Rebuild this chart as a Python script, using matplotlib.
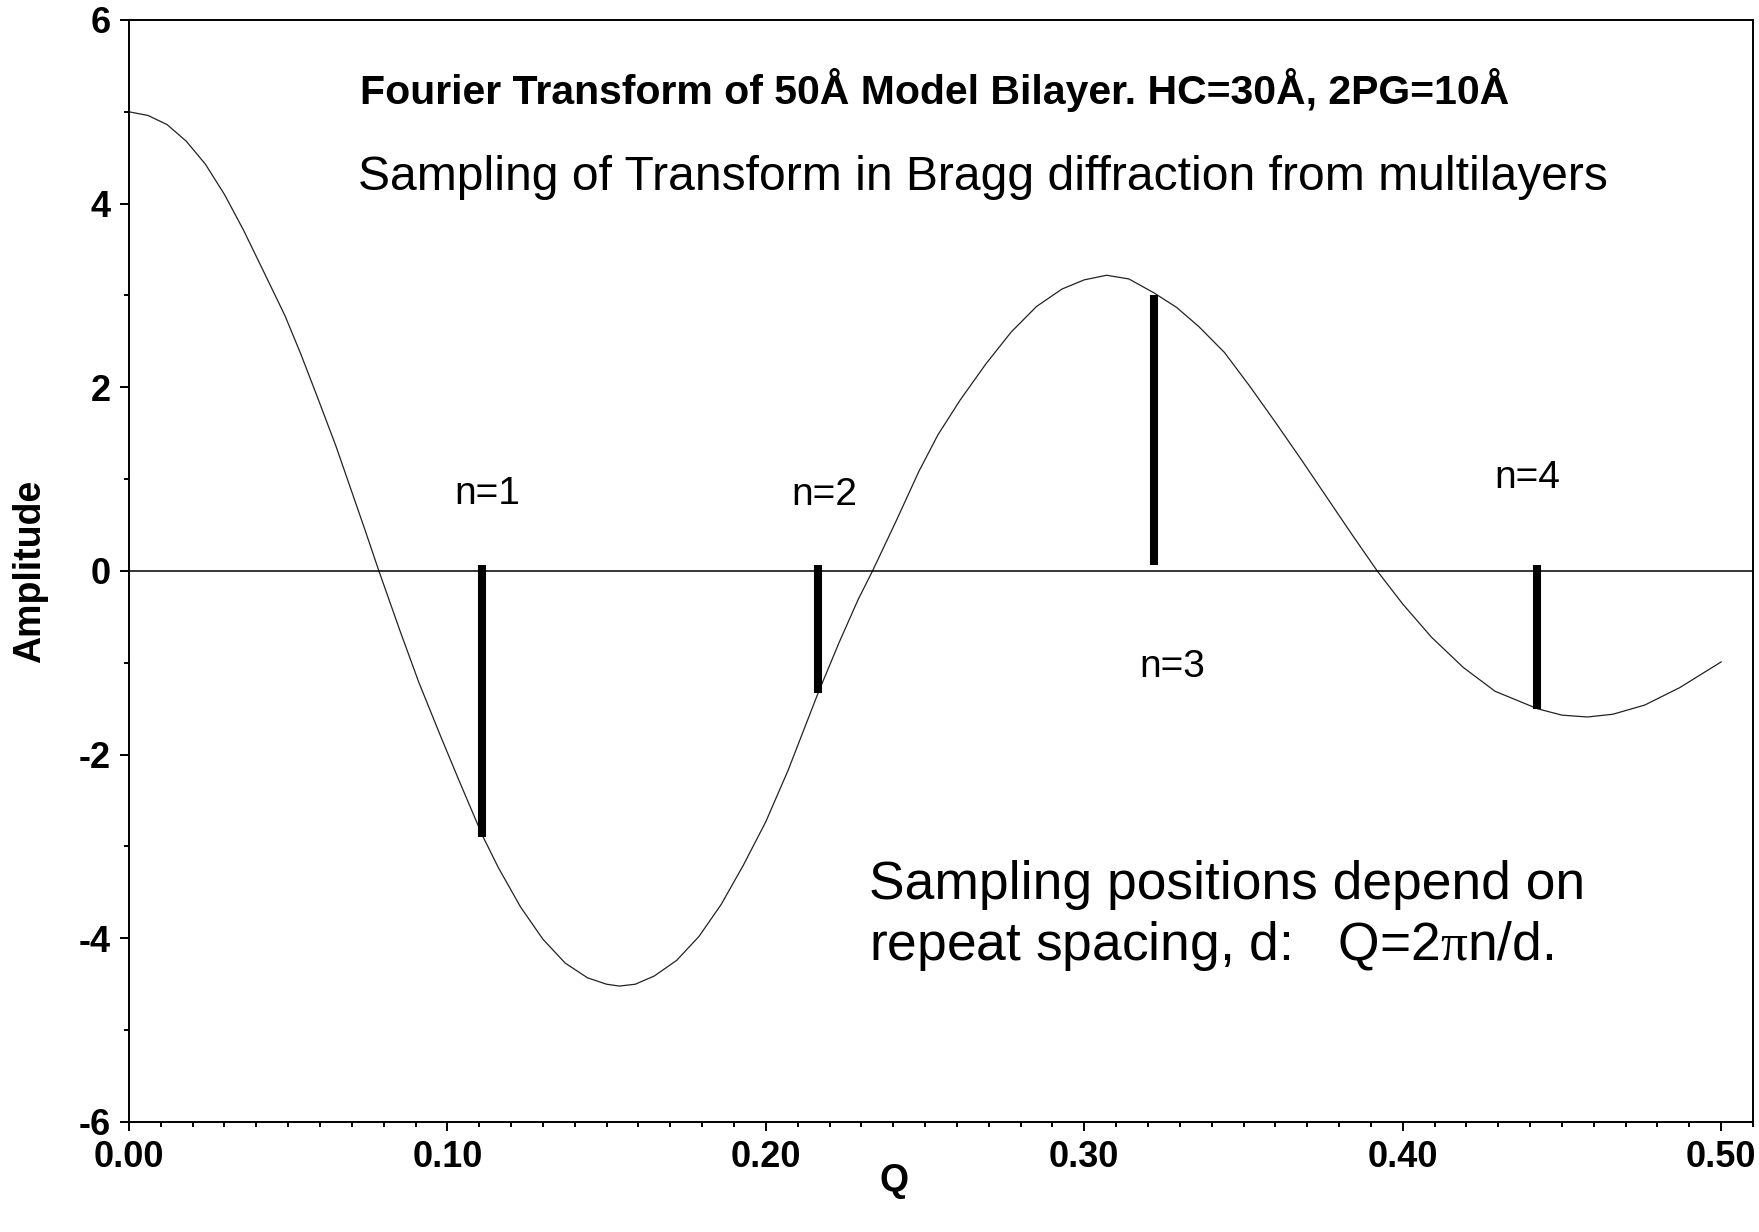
import matplotlib
matplotlib.use("Agg")
import matplotlib.pyplot as plt
from matplotlib.ticker import MultipleLocator

plt.rcParams['font.family'] = ['Liberation Sans', 'DejaVu Sans']
plt.rcParams['axes.unicode_minus'] = False
plt.rcParams['mathtext.fontset'] = 'custom'
plt.rcParams['mathtext.rm'] = 'Liberation Serif'

# transform curve
q = [0.000, 0.006, 0.012, 0.018, 0.024, 0.030, 0.036, 0.043, 0.049, 0.054,
     0.059, 0.065, 0.070, 0.074, 0.0785, 0.085, 0.091, 0.098, 0.104, 0.111,
     0.116, 0.123, 0.130, 0.137, 0.144, 0.150, 0.154, 0.159, 0.165, 0.172,
     0.179, 0.186, 0.193, 0.200, 0.207, 0.2164, 0.223, 0.229, 0.2335, 0.241,
     0.248, 0.254, 0.261, 0.269, 0.277, 0.285, 0.293, 0.300, 0.307, 0.314,
     0.3218, 0.329, 0.336, 0.344, 0.352, 0.360, 0.368, 0.376, 0.384, 0.392,
     0.400, 0.409, 0.419, 0.429, 0.4423, 0.450, 0.458, 0.466, 0.476, 0.487,
     0.500]
amp = [5.00, 4.96, 4.86, 4.68, 4.43, 4.10, 3.71, 3.21, 2.78, 2.36,
       1.91, 1.36, 0.86, 0.46, 0.00, -0.64, -1.21, -1.81, -2.31, -2.88,
       -3.23, -3.66, -4.01, -4.27, -4.43, -4.50, -4.52, -4.50, -4.41, -4.24,
       -3.98, -3.63, -3.20, -2.73, -2.17, -1.33, -0.78, -0.31, 0.00, 0.55,
       1.08, 1.48, 1.86, 2.25, 2.60, 2.88, 3.07, 3.17, 3.22, 3.18,
       3.03, 2.87, 2.66, 2.38, 2.01, 1.62, 1.22, 0.81, 0.40, 0.00,
       -0.36, -0.72, -1.05, -1.31, -1.50, -1.57, -1.59, -1.56, -1.46, -1.27,
       -0.99]

# Bragg sampling bars
bar_q = [0.1109, 0.2164, 0.3218, 0.4423]
bar_amp = [-2.90, -1.33, 3.01, -1.50]
bar_labels = ['n=1', 'n=2', 'n=3', 'n=4']
label_q = [0.1023, 0.2080, 0.3173, 0.4288]
label_amp = [0.73, 0.72, -1.15, 0.90]

x_ticks = [0.0, 0.1, 0.2, 0.3, 0.4, 0.5]
x_ticklabels = ['0.00', '0.10', '0.20', '0.30', '0.40', '0.50']
y_ticks = [-6, -4, -2, 0, 2, 4, 6]

fig = plt.figure(figsize=(17.59, 12.32), dpi=100)
ax = fig.add_axes([0.0733, 0.0893, 0.9233, 0.8945])

ax.plot(q, amp, color='#222222', lw=0.9)
ax.axhline(0, color='black', lw=1.1)
ax.vlines(bar_q, 0.06, bar_amp, color='black', lw=5.8)

for txt, x, y in zip(bar_labels, label_q, label_amp):
    ax.text(x, y, txt, fontsize=28, ha='left', va='baseline')

ax.text(0.0725, 5.09, 'Fourier Transform of 50Å Model Bilayer. HC=30Å, 2PG=10Å',
        fontsize=29.5, fontweight='bold', ha='left', va='baseline')
ax.text(0.0719, 4.15, 'Sampling of Transform in Bragg diffraction from multilayers',
        fontsize=34.6, ha='left', va='baseline')
ax.text(0.2323, -3.57, 'Sampling positions depend on',
        fontsize=38.4, ha='left', va='baseline')
ax.text(0.2323, -4.24, r'repeat spacing, d:   Q=2$\mathrm{\pi}$n/d.',
        fontsize=38.4, ha='left', va='baseline')

ax.set_xlim(0, 0.51)
ax.set_ylim(-6, 6)
ax.set_xticks(x_ticks)
ax.set_xticklabels(x_ticklabels)
ax.set_yticks(y_ticks)
ax.xaxis.set_minor_locator(MultipleLocator(0.01))
ax.yaxis.set_minor_locator(MultipleLocator(1))
ax.tick_params(which='major', direction='out', length=6.3, width=1.4,
               labelsize=26, pad=7)
ax.tick_params(which='minor', direction='out', length=3.6, width=1.4)
for lab in ax.get_xticklabels() + ax.get_yticklabels():
    lab.set_fontweight('bold')
for sp in ax.spines.values():
    sp.set_linewidth(1.4)

ax.set_xlabel('Q', fontsize=27, fontweight='bold')
ax.set_ylabel('Amplitude', fontsize=27, fontweight='bold')
ax.xaxis.set_label_coords(0.471, -0.037)
ax.yaxis.set_label_coords(-0.050, 0.5)

fig.savefig('out.png', dpi=100)
